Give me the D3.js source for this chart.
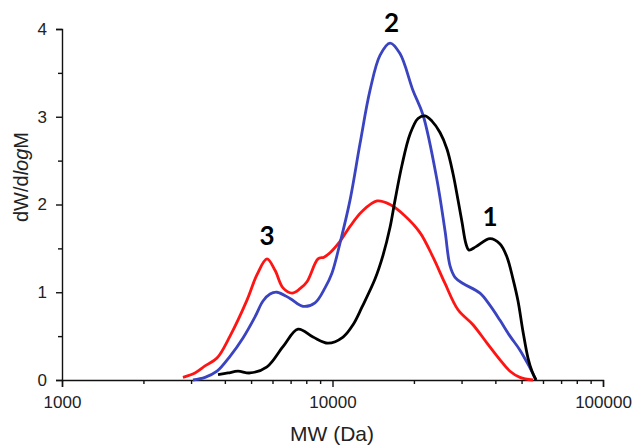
<!DOCTYPE html>
<html>
<head>
<meta charset="utf-8">
<script src="https://cdn.jsdelivr.net/npm/d3@7"></script>
<style>
  body { margin: 0; background: #fff; }
  .axis text { font-family: Arial, "Liberation Sans", sans-serif; font-size: 17px; fill: #222; }
  .axis path, .axis line { stroke: #111; stroke-width: 1.4; }
</style>
</head>
<body>
<div class="content"></div>
<script>
(function () {
    'use strict';
    // MW (Da), dW/dlogM
    var blackMW  = [3773, 4108, 4473, 4955, 5727, 6561, 7457, 8472, 9625, 10940, 11910, 12850, 14360, 15370, 16320, 17030, 18070, 19340, 20710, 21980, 23320, 24970, 26510, 27900, 29110, 30110, 31160, 31960, 33930, 38220, 41620, 44180, 46490, 48510, 50620, 52810, 54640, 56540];
    var blackVal = [0.06, 0.08, 0.1, 0.08, 0.15, 0.38, 0.58, 0.49, 0.42, 0.49, 0.63, 0.83, 1.15, 1.42, 1.74, 2.05, 2.45, 2.8, 2.98, 3.01, 2.95, 2.82, 2.63, 2.35, 2.05, 1.8, 1.55, 1.48, 1.52, 1.61, 1.55, 1.4, 1.15, 0.9, 0.55, 0.25, 0.1, 0];
    var blueMW   = [3049, 3379, 3741, 4179, 4668, 5170, 5535, 5875, 6233, 6965, 7780, 8616, 9383, 9958, 10660, 11610, 12650, 13760, 14980, 16320, 17760, 19840, 21610, 24340, 26060, 27200, 28380, 30370, 35100, 38220, 41620, 45320, 49330, 52810, 56540];
    var blueVal  = [0, 0.03, 0.1, 0.27, 0.48, 0.72, 0.9, 0.98, 1.0, 0.93, 0.84, 0.88, 1.05, 1.22, 1.56, 2.05, 2.7, 3.3, 3.7, 3.84, 3.72, 3.3, 3.02, 2.28, 1.7, 1.3, 1.17, 1.1, 0.99, 0.85, 0.68, 0.5, 0.34, 0.18, 0];
    var redMW    = [2800, 3101, 3379, 3741, 4179, 4829, 5259, 5727, 6130, 6561, 7085, 7584, 8048, 8841, 9303, 9789, 10660, 11610, 12850, 14610, 16320, 18540, 21060, 23530, 26060, 29110, 33060, 37260, 41620, 45320, 49330, 55110];
    var redVal   = [0.03, 0.08, 0.16, 0.25, 0.5, 0.91, 1.2, 1.38, 1.25, 1.05, 0.99, 1.04, 1.12, 1.38, 1.4, 1.45, 1.58, 1.75, 1.92, 2.04, 2.0, 1.87, 1.68, 1.4, 1.1, 0.8, 0.63, 0.42, 0.23, 0.1, 0.03, 0];
    var xTicks = [1000, 10000, 100000];
    var yTicks = [0, 1, 2, 3, 4];
    var peakLabels = ['1', '2', '3'];
    var peakMW = [38220, 16520, 5727];
    var peakVal = [1.755, 3.966, 1.54];

    var width = 633, height = 446,
        margin = {left: 62, right: 30, top: 29, bottom: 66};

    var svg = d3.select('.content').append('svg')
        .attr('width', width)
        .attr('height', height);

    var x = d3.scaleLog().domain([1000, 100000]).range([margin.left, width - margin.right]);
    var y = d3.scaleLinear().domain([0, 4]).range([height - margin.bottom, margin.top]);

    function minorX() {
        var out = [], d, k;
        for (d = 1000; d < 100000; d *= 10) {
            for (k = 2; k <= 9; k += 1) {
                out.push(d * k);
            }
        }
        return out;
    }

    // minor ticks first, then major axes on top
    svg.append('g').attr('class', 'axis')
        .attr('transform', 'translate(0,' + y(0) + ')')
        .call(d3.axisBottom(x).tickValues(minorX()).tickSize(4).tickFormat(''))
        .select('.domain').remove();
    svg.append('g').attr('class', 'axis')
        .attr('transform', 'translate(' + x(1000) + ',0)')
        .call(d3.axisLeft(y).tickValues([0.5, 1.5, 2.5, 3.5]).tickSize(4).tickFormat(''))
        .select('.domain').remove();

    svg.append('g').attr('class', 'axis')
        .attr('transform', 'translate(0,' + y(0) + ')')
        .call(d3.axisBottom(x).tickValues(xTicks).tickSizeOuter(0).tickSize(7).tickPadding(9).tickFormat(d3.format('d')));
    svg.append('g').attr('class', 'axis')
        .attr('transform', 'translate(' + x(1000) + ',0)')
        .call(d3.axisLeft(y).tickValues(yTicks).tickSizeOuter(0).tickSize(6).tickPadding(9).tickFormat(d3.format('d')));

    // axis titles
    svg.append('text')
        .attr('x', 332)
        .attr('y', 441)
        .attr('text-anchor', 'middle')
        .attr('font-family', 'Arial, "Liberation Sans", sans-serif')
        .attr('font-size', 21)
        .attr('fill', '#222')
        .text('MW (Da)');
    var yt = svg.append('text')
        .attr('transform', 'translate(28,177) rotate(-90)')
        .attr('text-anchor', 'middle')
        .attr('font-family', 'Arial, "Liberation Sans", sans-serif')
        .attr('font-size', 20)
        .attr('fill', '#222');
    yt.append('tspan').text('dW/d');
    yt.append('tspan').attr('font-style', 'italic').text('log');
    yt.append('tspan').text('M');

    var line = d3.line()
        .x(function (d) { return x(d[0]); })
        .y(function (d) { return y(d[1]); })
        .curve(d3.curveCatmullRom.alpha(0.5));

    function pairs(a, b) {
        return a.map(function (v, i) { return [v, b[i]]; });
    }

    var series = [
        {data: pairs(redMW, redVal), color: '#ff1414'},
        {data: pairs(blueMW, blueVal), color: '#3a43c0'},
        {data: pairs(blackMW, blackVal), color: '#000'}
    ];

    svg.selectAll('path.curve').data(series).enter().append('path')
        .attr('class', 'curve')
        .attr('d', function (d) { return line(d.data); })
        .attr('fill', 'none')
        .attr('stroke', function (d) { return d.color; })
        .attr('stroke-width', 2.8)
        .attr('stroke-linejoin', 'round');

    svg.selectAll('text.peak').data(peakLabels).enter().append('text')
        .attr('class', 'peak')
        .attr('x', function (d, i) { return x(peakMW[i]); })
        .attr('y', function (d, i) { return y(peakVal[i]); })
        .attr('text-anchor', 'middle')
        .attr('font-family', 'Lato, "Open Sans", sans-serif')
        .attr('font-weight', 'bold')
        .attr('font-size', 26)
        .attr('fill', '#000')
        .text(function (d) { return d; });
}());
</script>
</body>
</html>
